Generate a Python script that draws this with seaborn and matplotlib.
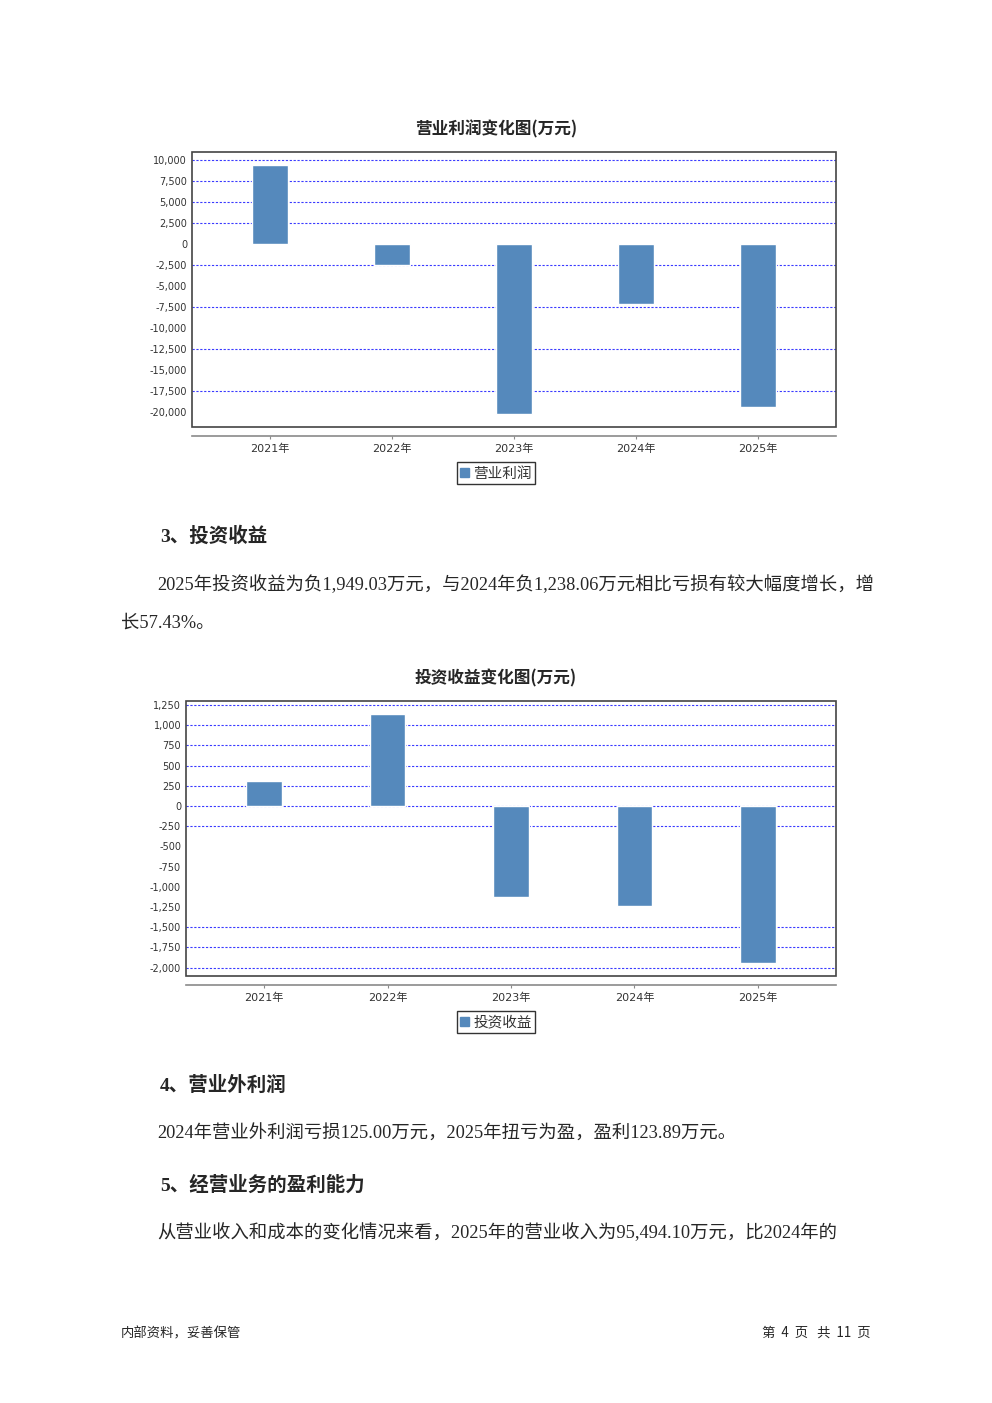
import matplotlib
matplotlib.use("Agg")
import pandas as pd
import matplotlib.pyplot as plt
import seaborn as sns
from matplotlib.patches import Rectangle, Patch
from matplotlib.ticker import FuncFormatter

# data
years = ["2021年", "2022年", "2023年", "2024年", "2025年"]
op_profit = [9400, -2480, -20250, -7180, -19440]
inv_income = [310, 1140, -1130, -1238.06, -1949.03]

op_ticks = list(range(10000, -20001, -2500))
inv_ticks = list(range(1250, -2001, -250))
# only these grid lines show up on the page
op_grid = [10000, 7500, 5000, 2500, -2500, -7500, -12500, -17500]
inv_grid = [1250, 1000, 750, 500, 250, 0, -250, -1500, -1750, -2000]

BAR = "#5589bc"
GRID = "#3a3aff"

sns.set_theme(style="white")
plt.rcParams["font.family"] = ["DejaVu Sans", "Noto Sans CJK SC"]

W, H = 992, 1403
fig = plt.figure(figsize=(W / 100, H / 100), dpi=100)


def fx(px):
    return px / W


def fy(py):
    return 1 - py / H


def draw_chart(box, values, ticks, grid, ylim, xlim, title, title_y, label, legend_y):
    l, t, r, b = box
    ax = fig.add_axes([fx(l), fy(b), (r - l) / W, (b - t) / H])
    df = pd.DataFrame({"year": years, "value": values})
    sns.barplot(data=df, x="year", y="value", color=BAR, width=0.29,
                saturation=1, ax=ax, zorder=3)
    ax.set_xlim(*xlim)
    ax.set_ylim(*ylim)
    ax.set_yticks(ticks)
    ax.yaxis.set_major_formatter(FuncFormatter(lambda v, p: f"{int(v):,}"))
    for g in grid:
        ax.axhline(g, color=GRID, lw=0.8, ls=(0, (2, 1.5)), zorder=1)
    ax.set_xlabel("")
    ax.set_ylabel("")
    for s in ["left", "top", "right"]:
        ax.spines[s].set_visible(False)
    ax.spines["bottom"].set_position(("outward", 6.5))
    ax.spines["bottom"].set_color("#8a8a8a")
    ax.spines["bottom"].set_linewidth(1.2)
    ax.add_patch(Rectangle((0, 0), 1, 1, transform=ax.transAxes, fill=False,
                           ec="#444444", lw=1.2, clip_on=False, zorder=5))
    ax.tick_params(axis="y", length=0, labelsize=7, pad=3.5, labelcolor="#333333")
    ax.tick_params(axis="x", length=2, width=0.8, color="#8a8a8a", direction="out",
                   labelsize=8, pad=3.5, labelcolor="#333333", bottom=True)
    fig.text(fx(496), fy(title_y), title, ha="center", va="center",
             fontsize=12, fontweight="bold", family=["Noto Sans CJK SC"])
    leg = fig.legend(handles=[Patch(color=BAR, label=label)], loc="center",
                     bbox_to_anchor=(fx(496), fy(legend_y)), frameon=True,
                     fancybox=False, edgecolor="black", fontsize=10.5,
                     handlelength=0.6, handleheight=0.6, handletextpad=0.3,
                     borderpad=0.22, borderaxespad=0)
    leg.get_frame().set_linewidth(1.0)
    for txt in leg.get_texts():
        txt.set_color("#333333")
    return ax


draw_chart((192, 152, 836, 427), op_profit, op_ticks, op_grid,
           (-21786, 10952), (-0.638, 4.638), "营业利润变化图(万元)", 129, "营业利润", 473)
draw_chart((186, 701, 836, 976), inv_income, inv_ticks, inv_grid,
           (-2104, 1300), (-0.632, 4.632), "投资收益变化图(万元)", 678, "投资收益", 1022)

body = ["Liberation Serif", "Noto Sans CJK SC"]
head = dict(fontsize=14, fontweight="bold", family=body, va="center")
txt = dict(fontsize=13.2, family=body, va="center")

fig.text(fx(160), fy(536), "3、投资收益", **head)
fig.text(fx(157), fy(585),
         "2025年投资收益为负1,949.03万元，与2024年负1,238.06万元相比亏损有较大幅度增长，增", **txt)
fig.text(fx(121), fy(623), "长57.43%。", **txt)
fig.text(fx(160), fy(1085), "4、营业外利润", **head)
fig.text(fx(157), fy(1134), "2024年营业外利润亏损125.00万元，2025年扭亏为盈，盈利123.89万元。", **txt)
fig.text(fx(160), fy(1185), "5、经营业务的盈利能力", **head)
fig.text(fx(157), fy(1233),
         "从营业收入和成本的变化情况来看，2025年的营业收入为95,494.10万元，比2024年的", **txt)

foot = dict(fontsize=9.6, family=["Noto Sans CJK SC"], va="center")
fig.text(fx(121), fy(1333), "内部资料，妥善保管", **foot)
fig.text(fx(871), fy(1333), "第  4  页   共  11  页", ha="right", **foot)

fig.savefig("out.png", dpi=100, facecolor="white")
